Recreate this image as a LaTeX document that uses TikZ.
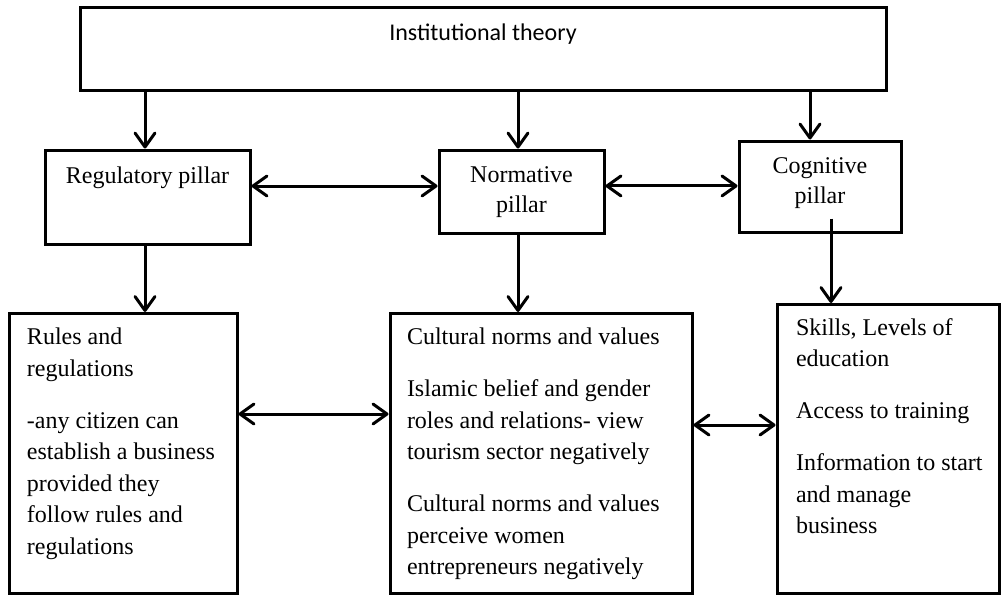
\documentclass[tikz,border=0pt]{standalone}
\usepackage{fontspec}
\setmainfont{Liberation Serif}
\newfontfamily\titlefont{Carlito}
\usepackage{tikz}
\usetikzlibrary{arrows.meta,positioning,calc}

\begin{document}
\begin{tikzpicture}[x=0.5pt,y=-0.5pt,
  every node/.style={font=\fontsize{12}{15.8}\selectfont},
  box/.style={draw,line width=1.5pt,inner sep=0pt},
  link/.style={line width=1.5pt,-{Straight Barb[length=7pt,width=10pt,round]}},
  both/.style={line width=1.5pt,{Straight Barb[length=7pt,width=10pt,round]}-{Straight Barb[length=7pt,width=10pt,round]}}]
  \useasboundingbox (0,0) rectangle (1001,595);
  % theory and the three pillars
  \node[box,font=\titlefont\fontsize{12}{15}\selectfont] (inst) at (483,48.75)
    {\parbox[c][41.25pt][t]{403pt}{\centering\rule{0pt}{16.25pt}Institutional theory}};
  \node[box] (reg) at (147.5,197)
    {\parbox[c][47pt][t]{102.5pt}{\centering\rule{0pt}{16.5pt}Regulatory pillar}};
  \node[box] (norm) at (521.5,191.75)
    {\parbox[c][41.75pt][t]{82.5pt}{\centering\baselineskip=15pt\rule{0pt}{16pt}Normative\\pillar}};
  \node[box] (cog) at (820,186.75)
    {\parbox[c][45.75pt][t]{81pt}{\centering\baselineskip=15pt\rule{0pt}{16pt}Cognitive\\pillar}};
  % what each pillar holds
  \node[box] (rules) at (123,453.5)
    {\parbox[c][140pt][t]{114pt}{\raggedright\leftskip=9pt\rule{0pt}{15.5pt}Rules and\\
      regulations\\[10.2pt]
      -any citizen can\\
      establish a business\\
      provided they\\
      follow rules and\\
      regulations}};
  \node[box] (cult) at (541,453.5)
    {\parbox[c][140pt][t]{151pt}{\raggedright\leftskip=8.5pt\rule{0pt}{15.5pt}Cultural norms and values\\[10.2pt]
      Islamic belief and gender\\
      roles and relations- view\\
      tourism sector negatively\\[10.2pt]
      Cultural norms and values\\
      perceive women\\
      entrepreneurs negatively}};
  \node[box] (skills) at (888,449)
    {\parbox[c][144.5pt][t]{111pt}{\raggedright\leftskip=9.5pt\rule{0pt}{15.25pt}Skills, Levels of\\
      education\\[10.2pt]
      Access to training\\[10.2pt]
      Information to start\\
      and manage\\
      business}};
  % arrows
  \draw[link] ([xshift=-1.25pt]reg.north |- inst.south) -- ([xshift=-1.25pt]reg.north);
  \draw[link] ([xshift=-1.75pt]norm.north |- inst.south) -- ([xshift=-1.75pt]norm.north);
  \draw[link] ([xshift=-5pt]cog.north |- inst.south) -- ([xshift=-5pt]cog.north);
  \draw[both] ([yshift=5.5pt]reg.east) -- ([yshift=5.5pt]reg.east -| norm.west);
  \draw[both] ([yshift=2.9pt]norm.east) -- ([yshift=2.9pt]norm.east -| cog.west);
  \draw[link] ([xshift=-1.25pt]reg.south) -- ([xshift=-1.25pt]reg.south |- rules.north);
  \draw[link] ([xshift=-1.75pt]norm.south) -- ([xshift=-1.75pt]norm.south |- cult.north);
  \draw[link] ([xshift=5.5pt,yshift=7.75pt]cog.south) -- ([xshift=-28.5pt]skills.north);
  \draw[both] ([yshift=19.75pt]rules.east) -- ([yshift=19.75pt]rules.east -| cult.west);
  \draw[both] ([yshift=14.25pt]cult.east) -- ([yshift=14.25pt]cult.east -| skills.west);
\end{tikzpicture}
\end{document}
